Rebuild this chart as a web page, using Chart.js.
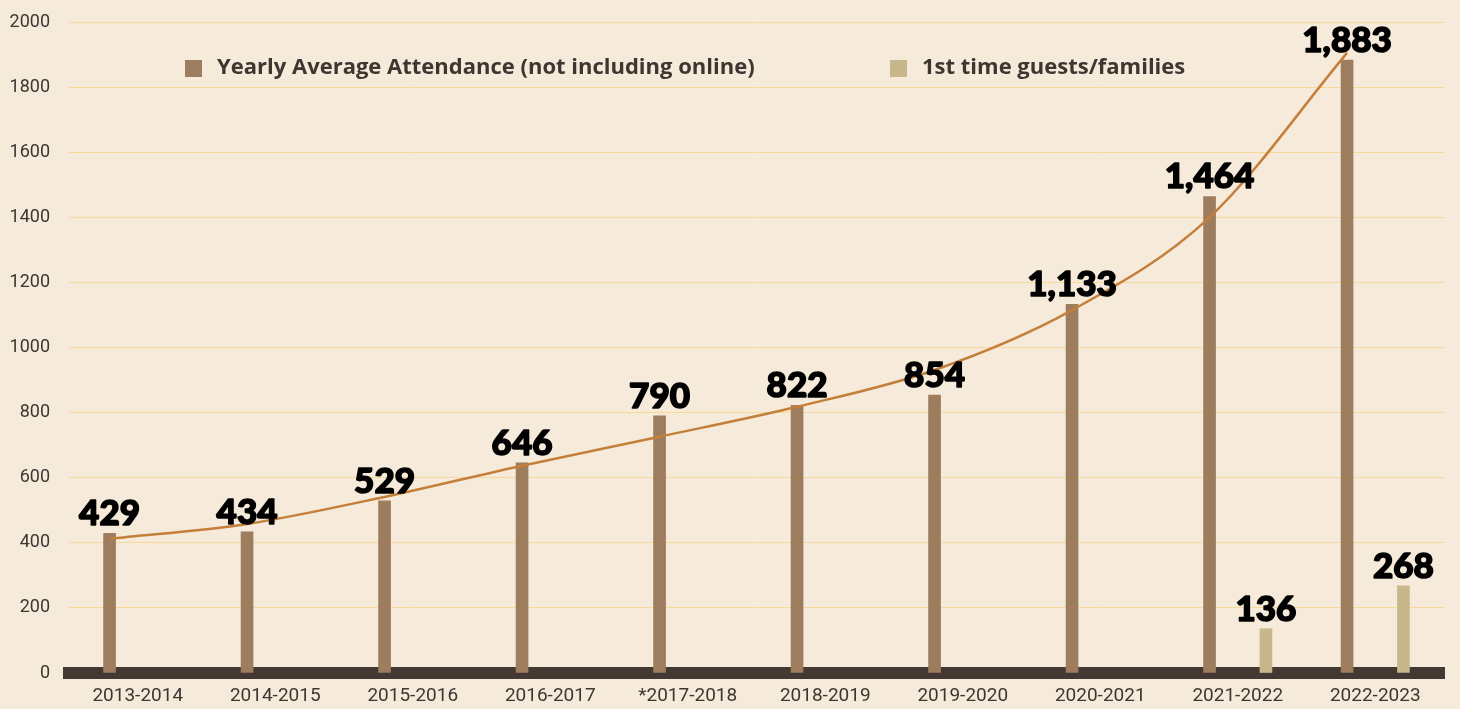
<!DOCTYPE html>
<html>
<head>
<meta charset="utf-8">
<script src="https://cdn.jsdelivr.net/npm/chart.js@4.4.1/dist/chart.umd.min.js"></script>
<style>
    html, body { margin: 0; padding: 0; background: #f6eada; }
    #wrap { width: 1460px; height: 709px; }
</style>
</head>
<body>
<div id="wrap"><canvas id="attendanceChart" width="1460" height="709"></canvas></div>
<script>
// Chart data
const years = ['2013-2014', '2014-2015', '2015-2016', '2016-2017', '*2017-2018',
    '2018-2019', '2019-2020', '2020-2021', '2021-2022', '2022-2023'];
const attendance = [429, 434, 529, 646, 790, 822, 854, 1133, 1464, 1883];
const firstTimeGuests = [null, null, null, null, null, null, null, null, 136, 268];
// trend line, one point per year
const trendValues = [412, 458, 541, 637, 726, 818, 931, 1115, 1400, 1905];
const yTicks = [0, 200, 400, 600, 800, 1000, 1200, 1400, 1600, 1800, 2000];

const seriesNames = ['Yearly Average Attendance (not including online)', '1st time guests/families'];
const barColors = ['#9d7d5e', '#c8b78a'];
const textColor = '#3e3631';

// bars sit left / right of the year centre (fraction of a category)
const GROUP_SHIFT = 0.205;
const toPoints = (arr, shift) => arr.map((v, i) => ({ x: i + shift, y: v }));

// Value labels above the bars
const valueLabels = {
    id: 'valueLabels',
    afterDatasetsDraw(chart) {
        const ctx = chart.ctx;
        ctx.save();
        ctx.font = '900 35px Lato';
        ctx.fillStyle = '#000';
        ctx.strokeStyle = '#000';
        ctx.lineWidth = 1.6;
        ctx.lineJoin = 'round';
        ctx.textAlign = 'center';
        ctx.textBaseline = 'alphabetic';
        [attendance, firstTimeGuests].forEach((values, di) => {
            const meta = chart.getDatasetMeta(di);
            meta.data.forEach((bar, i) => {
                const v = values[i];
                if (v === null || v === undefined) return;
                const txt = v.toLocaleString('en-US');
                ctx.strokeText(txt, bar.x, bar.y - 8);
                ctx.fillText(txt, bar.x, bar.y - 8);
            });
        });
        ctx.restore();
    }
};

// Legend drawn inside the plot area
const insideLegend = {
    id: 'insideLegend',
    afterDraw(chart) {
        const ctx = chart.ctx;
        const items = [{ x: 185 }, { x: 890 }];
        ctx.save();
        ctx.font = 'bold 22px "Open Sans"';
        ctx.textBaseline = 'middle';
        ctx.textAlign = 'left';
        items.forEach((it, i) => {
            ctx.fillStyle = barColors[i];
            ctx.fillRect(it.x, 60, 17, 17);
            ctx.fillStyle = textColor;
            ctx.fillText(seriesNames[i], it.x + 32, 68);
        });
        ctx.restore();
    }
};

function initializeChart() {
    const ctx = document.getElementById('attendanceChart').getContext('2d');
    new Chart(ctx, {
        type: 'bar',
        data: {
            labels: years,
            datasets: [{
                label: seriesNames[0],
                data: toPoints(attendance, -GROUP_SHIFT),
                xAxisID: 'xPos',
                backgroundColor: barColors[0],
                grouped: false,
                barThickness: 12,
                order: 2
            }, {
                label: seriesNames[1],
                data: toPoints(firstTimeGuests, GROUP_SHIFT),
                xAxisID: 'xPos',
                backgroundColor: barColors[1],
                grouped: false,
                barThickness: 12,
                order: 2
            }, {
                type: 'line',
                label: 'Trend',
                data: toPoints(trendValues, -GROUP_SHIFT),
                xAxisID: 'xPos',
                borderColor: '#c47f3a',
                borderWidth: 2.5,
                pointRadius: 0,
                cubicInterpolationMode: 'monotone',
                fill: false,
                order: 1
            }]
        },
        options: {
            responsive: false,
            animation: false,
            layout: {
                padding: { top: 22, right: 16, left: 0, bottom: 0 }
            },
            scales: {
                x: {
                    type: 'category',
                    offset: true,
                    grid: { display: false, drawTicks: false },
                    border: { display: true, width: 12, color: '#433932' },
                    ticks: {
                        color: textColor,
                        font: { family: 'Roboto', size: 19 },
                        padding: 12,
                        maxRotation: 0
                    },
                    afterFit(scale) { scale.height = 36; }
                },
                xPos: {
                    type: 'linear',
                    min: -0.5,
                    max: years.length - 0.5,
                    offset: false,
                    display: false
                },
                y: {
                    min: 0,
                    max: 2000,
                    grid: {
                        color: '#f8d99a',
                        lineWidth: 1,
                        drawTicks: true,
                        tickLength: 11,
                        tickColor: 'rgba(0,0,0,0)'
                    },
                    border: { display: false },
                    afterBuildTicks(scale) {
                        scale.ticks = yTicks.map(v => ({ value: v }));
                    },
                    ticks: {
                        color: textColor,
                        font: { family: 'Roboto', size: 18 },
                        padding: 8,
                        callback: v => String(v)
                    },
                    afterFit(scale) { scale.width = 69; }
                }
            },
            plugins: {
                legend: { display: false },
                tooltip: { enabled: false }
            }
        },
        plugins: [valueLabels, insideLegend]
    });
}

document.addEventListener('DOMContentLoaded', initializeChart);
</script>
</body>
</html>
